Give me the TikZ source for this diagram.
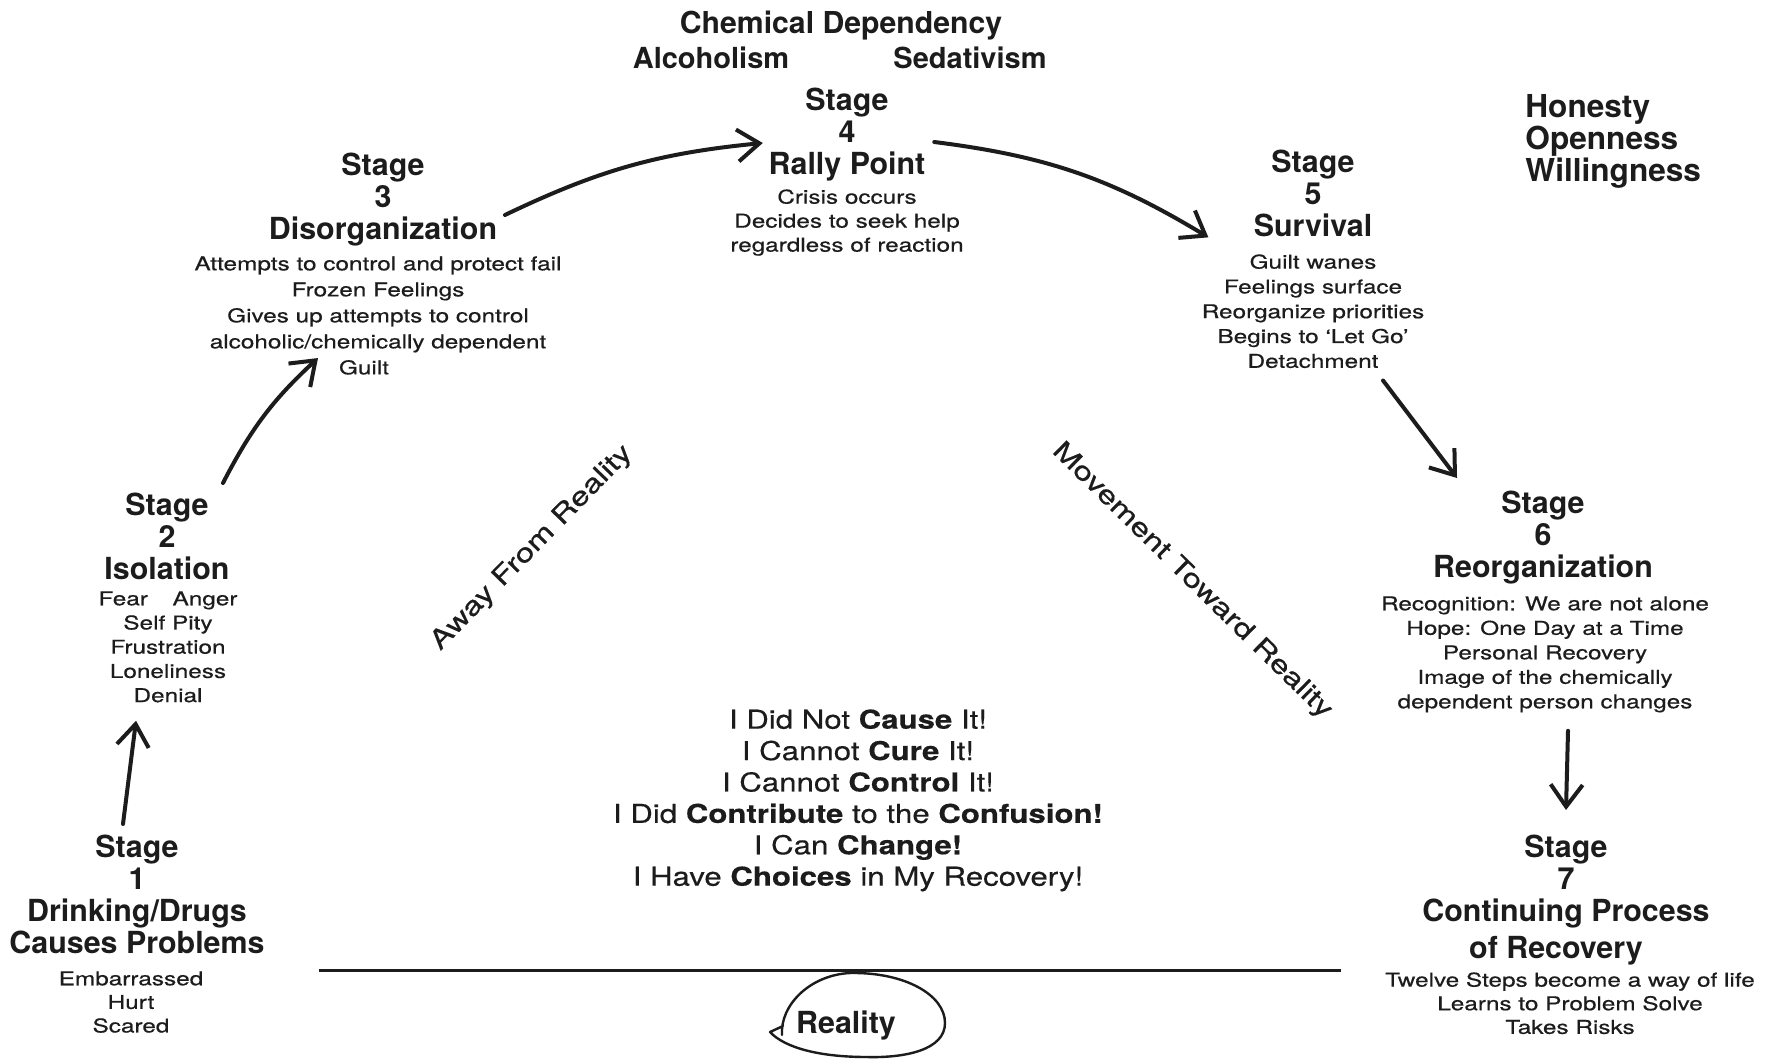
\documentclass[tikz,border=0pt]{standalone}
\usepackage{fontspec}
\setmainfont{TeX Gyre Heros}
\newfontfamily\wideA[FakeStretch=1.28,FakeBold=0.5]{TeX Gyre Heros}
\newfontfamily\wideB[FakeStretch=1.2,FakeBold=0.3]{TeX Gyre Heros}
\usetikzlibrary{arrows.meta}
\definecolor{ink}{HTML}{1C1C1C}
\begin{document}
\begin{tikzpicture}[x=0.5pt,y=-0.5pt,
  ttl/.style={align=center, inner sep=0pt, anchor=north, text=ink,
    font=\fontsize{15.2}{16}\selectfont\bfseries},
  bdy/.style={align=center, inner sep=0pt, anchor=north, text=ink,
    font=\wideA\fontsize{9.5}{#1}\selectfont},
  bdy/.default=12.4,
  hdr/.style={inner sep=0pt, anchor=base, text=ink,
    font=\fontsize{14.5}{16}\selectfont\bfseries},
  stmt/.style={align=center, inner sep=0pt, anchor=north, text=ink,
    font=\wideB\fontsize{13}{15.7}\selectfont},
  diag/.style={inner sep=0pt, text=ink, font=\wideA\fontsize{13}{15}\selectfont},
  arr/.style={draw=ink, line width=2pt, line cap=round,
    -{Straight Barb[length=11pt,width=16pt]}},
  rline/.style={draw=ink, line width=1.5pt},
  loop/.style={draw=ink, line width=1.2pt, line cap=round, line join=round}
]
\useasboundingbox[fill=white] (0,0) rectangle (1775,1060);

% header texts
\node[hdr, font=\fontsize{15.1}{16}\selectfont\bfseries] (cd) at (841,33) {Chemical Dependency};
\node[hdr] (alc) at (711,68) {Alcoholism};
\node[hdr] (sed) at (970,68) {Sedativism};
\node[hdr, align=left, anchor=north west, font=\fontsize{15.8}{16}\selectfont\bfseries] (hon) at (1525,94) {Honesty\\Openness\\Willingness};

% stages
\node[ttl] (s1t) at (137,834.5) {Stage\\1\\Drinking/Drugs\\Causes Problems};
\node[bdy=11.8] (s1b) at (131,971) {Embarrassed\\Hurt\\Scared};

\node[ttl] (s2t) at (167,492.5) {Stage\\2\\Isolation};
\node[bdy=12.1] (s2b) at (168,591) {Fear\hspace{1.3em}Anger\\Self Pity\\Frustration\\Loneliness\\Denial};

\node[ttl] (s3t) at (383,152.5) {Stage\\3\\Disorganization};
\node[bdy=13] (s3b) at (378,256) {Attempts to control and protect fail\\Frozen Feelings\\Gives up attempts to control\\alcoholic/chemically dependent\\Guilt\hspace*{14pt}};

\node[ttl] (s4t) at (847,87.5) {Stage\\4\\Rally Point};
\node[bdy=12] (s4b) at (847,189) {Crisis occurs\\Decides to seek help\\regardless of reaction};

\node[ttl] (s5t) at (1313,149.5) {Stage\\5\\Survival};
\node[bdy=12.4] (s5b) at (1313,254) {Guilt wanes\\Feelings surface\\Reorganize priorities\\Begins to ‘Let Go’\\Detachment};

\node[ttl] (s6t) at (1543,490.5) {Stage\\6\\Reorganization};
\node[bdy=12.25] (s6b) at (1545,596) {Recognition: We are not alone\\Hope: One Day at a Time\\Personal Recovery\\Image of the chemically\\dependent person changes};

\node[ttl] (s7t) at (1566,834.5) {Stage\\7\\Continuing Process\\[2.5pt]of Recovery\hspace*{10pt}};
\node[bdy=11.8] (s7b) at (1570,972) {Twelve Steps become a way of life\\Learns to Problem Solve\\Takes Risks};

% diagonal labels
\node[diag, rotate=45.6] (away) at (532,548) {Away From Reality};
\node[diag, rotate=-44.5] (move) at (1192,581) {Movement Toward Reality};

% central statements
\node[stmt] (stm) at (858,709) {I Did Not \textbf{Cause} It!\\I Cannot \textbf{Cure} It!\\I Cannot \textbf{Control} It!\\I Did \textbf{Contribute} to the \textbf{Confusion!}\\I Can \textbf{Change!}\\I Have \textbf{Choices} in My Recovery!};

% reality line and label
\coordinate (rl) at (319,970);
\coordinate (rr) at (1341,970);
\draw[rline] (rl) -- (rr);
\node[ttl, anchor=base] (real) at (846,1033) {Reality};
\draw[loop] (782,1035) .. controls (780,1005) and (810,975) .. (850,973)
  .. controls (905,972) and (945,995) .. (945,1023)
  .. controls (945,1050) and (905,1058) .. (867,1057)
  .. controls (820,1057) and (785,1048) .. (770,1032) -- (783,1026);

% connectors
\draw[arr] ([shift={(-14,-10.5)}]s1t.north) -- ([shift={(-32,18)}]s2b.south);
\draw[arr] ([shift={(56,-9.5)}]s2t.north) to[bend left=10] ([shift={(-60,-17)}]s3b.south);
\draw[arr] ([shift={(7.5,15.5)}]s3t.east) to[bend left=10] ([shift={(-5.5,8.5)}]s4t.west);
\draw[arr] ([shift={(8.5,7.5)}]s4t.east) to[bend left=12] ([shift={(-45,44)}]s5t.west);
\draw[arr] ([shift={(70,12)}]s5b.south) -- ([shift={(-86,-12.5)}]s6t.north);
\draw[arr] ([shift={(23,18)}]s6b.south) -- ([shift={(0,-24.5)}]s7t.north);
\end{tikzpicture}
\end{document}
